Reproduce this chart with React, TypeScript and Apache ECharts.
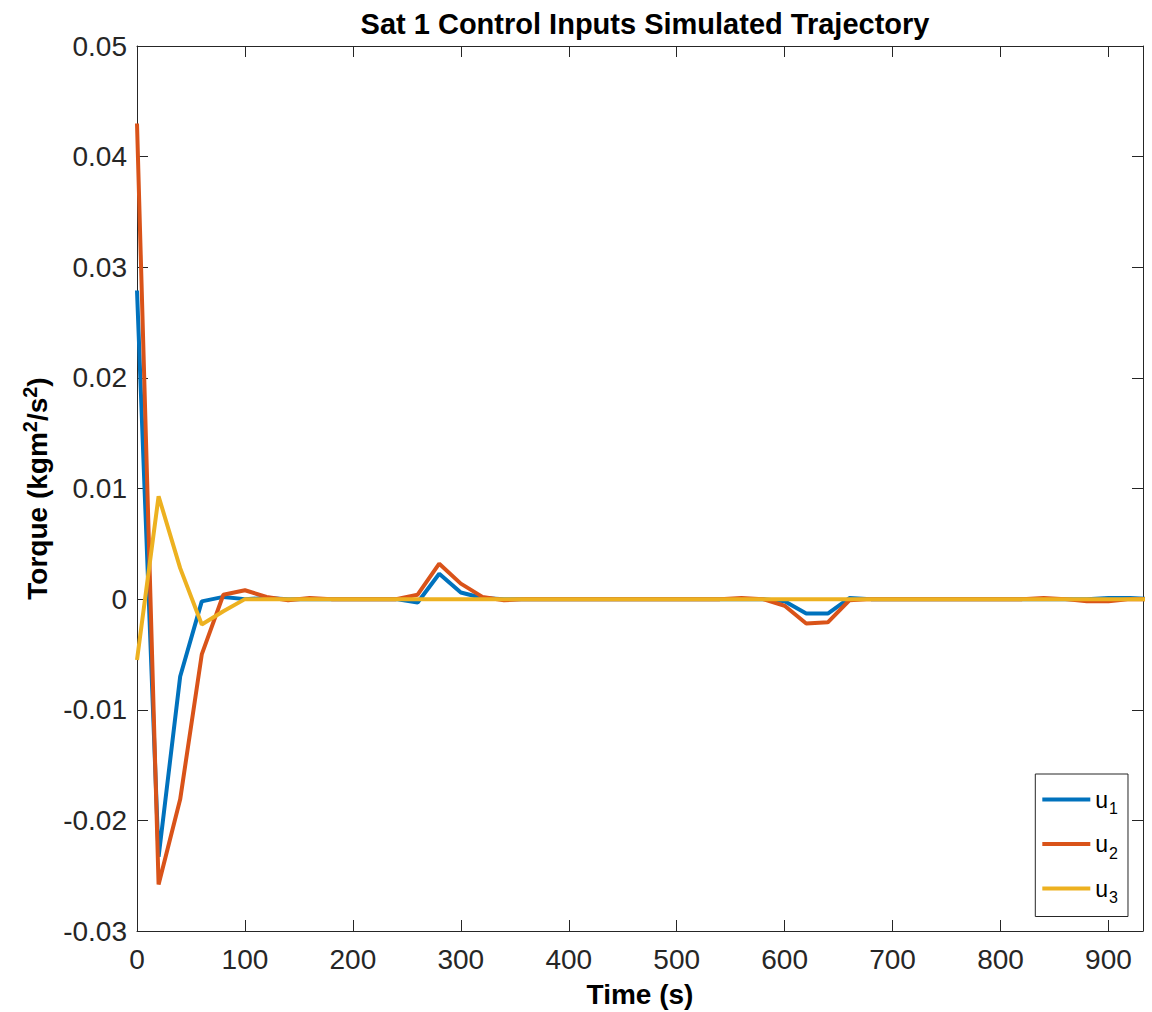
import React, { useEffect, useRef } from "react";
import * as echarts from "echarts";

const time: number[] = [
  0, 20, 40, 60, 80, 100, 120, 140, 160, 180, 200, 220, 240, 260, 280, 300, 320, 340, 360, 380,
  400, 420, 440, 460, 480, 500, 520, 540, 560, 580, 600, 620, 640, 660, 680, 700, 720, 740, 760,
  780, 800, 820, 840, 860, 880, 900, 920, 940,
];
const u1: number[] = [
  0.0279, -0.0233, -0.007, -0.0002, 0.0002, 0.0, 0.0001, 0.0, 0.0, 0.0, 0.0, 0.0, 0.0, -0.0003,
  0.0023, 0.0006, 0.0001, 0.0, 0.0, 0.0, 0.0, 0.0, 0.0, 0.0, 0.0, 0.0, 0.0, 0.0, 0.0, 0.0,
  -0.0002, -0.0013, -0.0013, 0.0001, 0.0, 0.0, 0.0, 0.0, 0.0, 0.0, 0.0, 0.0, 0.0, 0.0, 0.0,
  0.0001, 0.0001, 0.0,
];
const u2: number[] = [
  0.043, -0.0258, -0.0181, -0.005, 0.0004, 0.0008, 0.0002, -0.0001, 0.0001, 0.0, 0.0, 0.0, 0.0,
  0.0004, 0.0032, 0.0014, 0.0002, -0.0001, 0.0, 0.0, 0.0, 0.0, 0.0, 0.0, 0.0, 0.0, 0.0, 0.0,
  0.0001, 0.0, -0.0006, -0.0022, -0.0021, -0.0001, 0.0, 0.0, 0.0, 0.0, 0.0, 0.0, 0.0, 0.0,
  0.0001, 0.0, -0.0002, -0.0002, 0.0, 0.0,
];
const u3: number[] = [
  -0.0055, 0.0093, 0.0028, -0.0023, -0.0011, 0.0, 0.0, 0.0, 0.0, 0.0, 0.0, 0.0, 0.0, 0.0, 0.0,
  0.0, 0.0, 0.0, 0.0, 0.0, 0.0, 0.0, 0.0, 0.0, 0.0, 0.0, 0.0, 0.0, 0.0, 0.0, 0.0, 0.0, 0.0, 0.0,
  0.0, 0.0, 0.0, 0.0, 0.0, 0.0, 0.0, 0.0, 0.0, 0.0, 0.0, 0.0, 0.0, 0.0,
];
const seriesNames: string[] = ["u1", "u2", "u3"];
const seriesColors: string[] = ["#0072BD", "#D95319", "#EDB120"];

const FONT = "'Liberation Sans', Arial, Helvetica, sans-serif";
const AXIS_COLOR = "#262626";

export default function App() {
  const ref = useRef<HTMLDivElement>(null);
  useEffect(() => {
    if (!ref.current) return;
    const chart = echarts.init(ref.current, undefined, { renderer: "svg" });
    const values = [u1, u2, u3];
    const yFmt = (v: number) => {
      const r = Math.round(v * 100) / 100;
      if (Math.abs(r) < 1e-9) return "0";
      return r.toFixed(2);
    };
    const xFmt = (v: number) => (Math.abs(v % 100) < 1e-6 ? String(v) : "");
    const tickStyle = { show: true, inside: true, length: 11, lineStyle: { color: AXIS_COLOR, width: 1 } };
    const lineStyle = { show: true, onZero: false, lineStyle: { color: AXIS_COLOR, width: 1 } };
    chart.setOption({
      animation: false,
      backgroundColor: "#ffffff",
      title: {
        text: "Sat 1 Control Inputs Simulated Trajectory",
        left: 640,
        textAlign: "center",
        top: 4,
        textStyle: { fontFamily: FONT, fontWeight: "bold", fontSize: 29, color: "#000" },
      },
      grid: {
        left: 137,
        right: 9,
        top: 46,
        bottom: 81,
        containLabel: false,
        outerBoundsMode: "none",
      },
      legend: {
        orient: "vertical",
        right: 24,
        top: 774,
        padding: [14, 10, 11, 7],
        itemGap: 16,
        itemWidth: 48,
        itemHeight: 4,
        icon: "rect",
        borderColor: AXIS_COLOR,
        borderWidth: 1,
        backgroundColor: "#fff",
        data: seriesNames,
        formatter: (name: string) => `{b|u}{s|${name.slice(1)}}`,
        textStyle: {
          fontFamily: FONT,
          color: "#000",
          rich: {
            b: { fontSize: 23, fontFamily: FONT, color: "#000" },
            s: { fontSize: 16, fontFamily: FONT, color: "#000", padding: [18, 0, 0, 1] },
          },
        },
      },
      xAxis: [
        {
          type: "value",
          min: 0,
          max: 932,
          interval: 100,
          name: "Time (s)",
          nameLocation: "middle",
          nameGap: 49,
          nameTextStyle: { fontFamily: FONT, fontWeight: "bold", fontSize: 28, color: "#000" },
          axisLine: lineStyle,
          axisTick: tickStyle,
          splitLine: { show: false },
          axisLabel: { formatter: xFmt, fontFamily: FONT, fontSize: 28, color: AXIS_COLOR, margin: 14 },
        },
        {
          type: "value",
          position: "top",
          min: 0,
          max: 932,
          interval: 100,
          axisLine: lineStyle,
          axisTick: tickStyle,
          splitLine: { show: false },
          axisLabel: { show: false },
        },
      ],
      yAxis: [
        {
          type: "value",
          min: -0.03,
          max: 0.05,
          interval: 0.01,
          name: "Torque (kgm{sup|2}/s{sup|2})",
          nameLocation: "middle",
          nameRotate: 90,
          nameGap: 83,
          nameTextStyle: {
            fontFamily: FONT,
            fontWeight: "bold",
            fontSize: 28,
            color: "#000",
            rich: {
              sup: { fontFamily: FONT, fontWeight: "bold", fontSize: 20, color: "#000", padding: [0, 0, 14, 0] },
            },
          },
          axisLine: lineStyle,
          axisTick: tickStyle,
          splitLine: { show: false },
          axisLabel: { formatter: yFmt, fontFamily: FONT, fontSize: 28, color: AXIS_COLOR, margin: 10 },
        },
        {
          type: "value",
          position: "right",
          min: -0.03,
          max: 0.05,
          interval: 0.01,
          axisLine: lineStyle,
          axisTick: tickStyle,
          splitLine: { show: false },
          axisLabel: { show: false },
        },
      ],
      series: seriesNames.map((name, i) => ({
        name,
        type: "line",
        xAxisIndex: 0,
        yAxisIndex: 0,
        data: time.map((t, j) => [t, values[i][j]]),
        showSymbol: false,
        symbol: "none",
        lineStyle: { color: seriesColors[i], width: 4 },
        itemStyle: { color: seriesColors[i] },
        clip: true,
      })),
    });
    return () => chart.dispose();
  }, []);
  return (
    <div
      ref={ref}
      style={{ position: "absolute", left: 0, top: 0, width: 1152, height: 1012 }}
    />
  );
}
